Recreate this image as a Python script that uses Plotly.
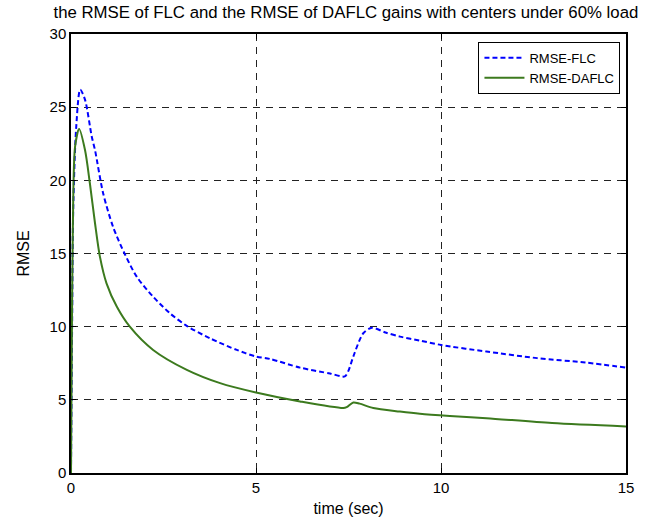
import plotly.graph_objects as go

# data
t_flc = [0, 0.03, 0.06, 0.14, 0.25, 0.38, 0.56, 0.65, 0.87, 1.14, 1.46, 1.78, 2.22, 2.68,
         3.13, 3.76, 4.48, 5.0, 5.37, 6.19, 7.0, 7.4, 7.5, 7.63, 7.9, 8.13, 8.5, 8.89,
         9.43, 10.0, 11.23, 12.6, 13.9, 15.0]
rmse_flc = [0, 10, 18, 23.6, 26.2, 25.5, 23.0, 22.05, 19.1, 16.8, 14.93, 13.4, 12.05, 10.9,
            10.05, 9.2, 8.41, 7.96, 7.8, 7.2, 6.8, 6.6, 7.0, 7.96, 9.55, 9.93, 9.6, 9.32,
            9.05, 8.75, 8.3, 7.85, 7.55, 7.2]

t_daflc = [0, 0.02, 0.05, 0.11, 0.22, 0.38, 0.51, 0.65, 0.78, 0.96, 1.24, 1.59, 2.22, 3.13,
           4.03, 5.0, 6.19, 7.36, 7.45, 7.63, 7.8, 8.17, 8.89, 9.43, 10.24, 11.23, 13.0, 15.0]
rmse_daflc = [0, 8, 16.8, 22.3, 23.5, 22.05, 19.8, 17.05, 14.8, 12.96, 11.36, 10.0, 8.41, 7.05,
              6.14, 5.5, 4.89, 4.44, 4.5, 4.82, 4.74, 4.44, 4.2, 4.05, 3.9, 3.75, 3.41, 3.18]

x_ticks = [0, 5, 10, 15]
y_ticks = [0, 5, 10, 15, 20, 25, 30]

title = "the RMSE of FLC and the RMSE of DAFLC gains with centers under 60% load"

FONT = "Liberation Sans, Arial, Helvetica, sans-serif"

fig = go.Figure()
fig.add_trace(go.Scatter(x=t_flc, y=rmse_flc, mode="lines", name="RMSE-FLC",
                         line=dict(color="#0000FF", width=2, dash="5px,3px",
                                   shape="spline", smoothing=0.8)))
fig.add_trace(go.Scatter(x=t_daflc, y=rmse_daflc, mode="lines", name="RMSE-DAFLC",
                         line=dict(color="#3C7A1E", width=2,
                                   shape="spline", smoothing=0.8)))

axis_common = dict(showline=True, linecolor="black", linewidth=1.5, mirror="ticks",
                   ticks="inside", ticklen=5, tickcolor="black",
                   showgrid=True, gridcolor="#222222", gridwidth=1, griddash="7px,6px",
                   zeroline=False, tickfont=dict(size=15, color="black", family=FONT))

fig.update_xaxes(range=[0, 15], tickvals=x_ticks, **axis_common,
                 title=dict(text="time (sec)", font=dict(size=16, color="black", family=FONT),
                            standoff=8))
fig.update_yaxes(range=[0, 30], tickvals=y_ticks, **axis_common,
                 title=dict(text="RMSE", font=dict(size=16, color="black", family=FONT),
                            standoff=16))

fig.update_layout(
    width=662, height=526,
    margin=dict(l=71, r=36, t=34, b=53),
    paper_bgcolor="white", plot_bgcolor="white",
    title=dict(text=title, x=0.5225, xanchor="center", y=0.988, yanchor="top",
               font=dict(size=16.8, color="black", family=FONT)),
    showlegend=True,
    legend=dict(x=0.99, y=0.982, xanchor="right", yanchor="top",
                bordercolor="black", borderwidth=1, bgcolor="white",
                font=dict(size=13, color="black", family=FONT),
                tracegroupgap=0, itemwidth=40),
)

fig.write_html("out.html")
